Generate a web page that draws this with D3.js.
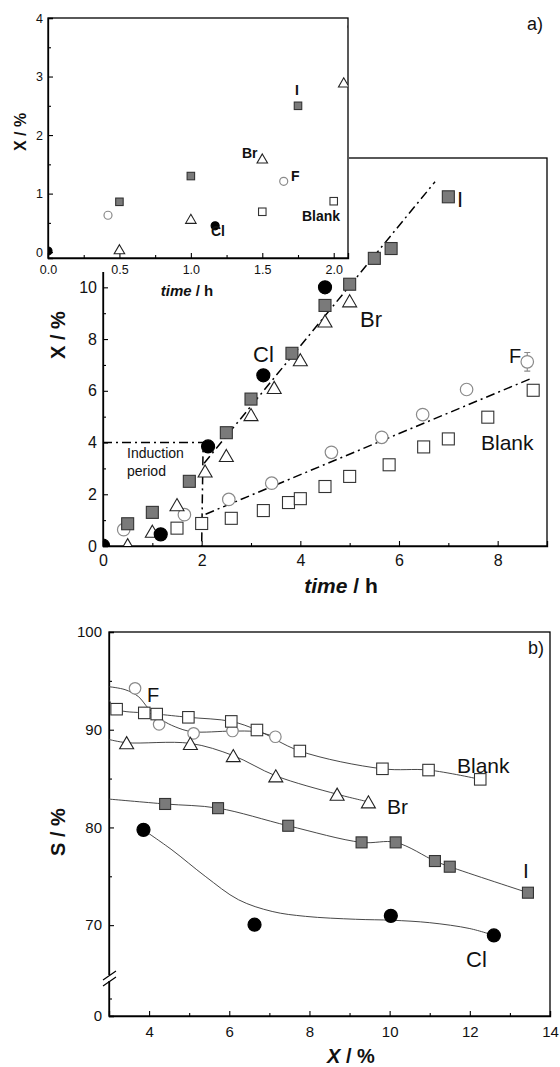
<!DOCTYPE html>
<html>
<head>
<meta charset="utf-8">
<script src="https://cdn.jsdelivr.net/npm/d3@7"></script>
<style>
  body { margin: 0; background: #fff; }
  svg { display: block; }
  text { font-family: "Liberation Sans", Arial, sans-serif; fill: #111; }
</style>
</head>
<body>
<svg id="chart" width="560" height="1067"></svg>
<script>
// ---------- panel a: conversion X (%) against time (h)
var clTime = [0, 1.17, 2.13, 3.25, 4.5];
var clConv = [0.02, 0.45, 3.85, 6.6, 10.0];
var iTime = [0.5, 1.0, 1.75, 2.5, 3.0, 3.83, 4.5, 5.0, 5.5, 5.84, 7.0];
var iConv = [0.86, 1.3, 2.5, 4.38, 5.68, 7.45, 9.3, 10.12, 11.12, 11.5, 13.5];
var brTime = [0.5, 1.0, 1.5, 2.07, 2.5, 3.0, 3.47, 4.0, 4.5, 5.0];
var brConv = [0.05, 0.57, 1.6, 2.9, 3.5, 5.08, 6.13, 7.2, 8.7, 9.48];
var fTime = [0.42, 1.65, 2.55, 3.42, 4.63, 5.65, 6.48, 7.37, 8.6];
var fConv = [0.63, 1.21, 1.8, 2.43, 3.62, 4.2, 5.08, 6.05, 7.12];
var fErr = [0, 0, 0, 0, 0, 0, 0, 0, 0.36];
var blankTime = [1.5, 2.0, 2.6, 3.25, 3.76, 4.0, 4.5, 5.0, 5.8, 6.5, 7.0, 7.8, 8.72];
var blankConv = [0.69, 0.87, 1.07, 1.37, 1.68, 1.83, 2.3, 2.69, 3.14, 3.83, 4.14, 4.98, 6.02];

// dash-dot guide lines of panel a
var inductionTime = [0, 2.03, 2.0];
var inductionConv = [4, 4, 0];
var fastRateTime = [2.05, 6.73];
var fastRateConv = [3.2, 14.08];
var slowRateTime = [2.08, 8.67];
var slowRateConv = [1.23, 6.47];

// tick values
var aTimeTicks = [0, 2, 4, 6, 8], aTimeMinor = [1, 3, 5, 7];
var aConvTicks = [0, 2, 4, 6, 8, 10, 12, 14], aConvMinor = [1, 3, 5, 7, 9, 11, 13];
var insetTimeTicks = [0, 0.5, 1.0, 1.5, 2.0], insetTimeMinor = [0.25, 0.75, 1.25, 1.75];
var insetConvTicks = [0, 1, 2, 3, 4], insetConvMinor = [0.5, 1.5, 2.5, 3.5];

// ---------- panel b: selectivity S (%) against conversion X (%)
var clX = [3.86, 6.63, 10.03, 12.6];
var clS = [79.75, 70.05, 70.95, 68.95];
var iX = [4.4, 5.72, 7.47, 9.3, 10.15, 11.13, 11.5, 13.45];
var iS = [82.4, 81.97, 80.17, 78.47, 78.47, 76.56, 75.98, 73.32];
var brX = [3.44, 5.03, 6.1, 7.16, 8.69, 9.47];
var brS = [88.67, 88.6, 87.35, 85.28, 83.4, 82.62];
var blankX = [3.19, 3.88, 4.19, 4.98, 6.05, 6.69, 7.76, 9.82, 10.97, 12.26];
var blankS = [92.1, 91.72, 91.6, 91.27, 90.85, 89.97, 87.82, 86.0, 85.87, 84.92];
var fX = [3.65, 4.25, 5.11, 6.08, 7.15];
var fS = [94.24, 90.55, 89.63, 89.87, 89.28];

// smoothed curves (Cl and F are fits, the others run through the points from X = 3)
var clFitX = [3.86, 4.57, 5.4, 6.23, 7.07, 7.9, 9.15, 10.07, 11.0, 12.0, 12.6];
var clFitS = [79.75, 77.7, 75.0, 72.6, 71.4, 70.9, 70.6, 70.5, 70.25, 69.65, 68.95];
var fFitX = [3.0, 3.4, 3.73, 3.98, 4.32, 4.65, 5.07, 6.07, 6.65, 7.15];
var fFitS = [94.4, 94.1, 93.4, 92.2, 91.0, 90.3, 89.8, 89.86, 89.8, 89.28];
var startX = 3.0;
var iStartS = 82.9, brStartS = 89.0, blankStartS = 93.05;

var bXTicks = [4, 6, 8, 10, 12, 14], bXMinor = [5, 7, 9, 11, 13];
var bSTicks = [0, 70, 80, 90, 100], bSMinor = [5, 75, 85, 95];

var svg = d3.select('#chart');
var grey = '#7a7a7a', ring = '#8a8a8a';

// scales
var xA = d3.scaleLinear().domain([0, 9]).range([103, 547]);
var yA = d3.scaleLinear().domain([0, 15]).range([546, 158]);
var xIn = d3.scaleLinear().domain([0, 2.1]).range([48, 348]);
var yIn = d3.scaleLinear().domain([-0.1, 4]).range([258, 18]);
var xB = d3.scaleLinear().domain([3, 14]).range([109, 550]);
// broken axis: 0..10 squeezed under the break, 65..100 linear above it
var yB = d3.scaleLinear().domain([0, 10, 65, 100]).range([1016, 981, 974, 632]);

function zip(xs, ys) {
	return xs.map(function (x, i) { return [x, ys[i]]; });
}

function drawSeries(g, xs, ys, sx, sy, kind, s) {
	var pts = zip(xs, ys).map(function (d) { return [sx(d[0]), sy(d[1])]; });
	var sel = g.selectAll(null).data(pts).enter();
	if (kind == 'cl' || kind == 'f') {
		sel.append('circle')
			.attr('cx', function (d) { return d[0]; })
			.attr('cy', function (d) { return d[1]; })
			.attr('r', s / 2)
			.attr('fill', kind == 'cl' ? '#000' : '#fff')
			.attr('stroke', kind == 'cl' ? '#000' : ring)
			.attr('stroke-width', 1.2);
	} else if (kind == 'i' || kind == 'blank') {
		sel.append('rect')
			.attr('x', function (d) { return d[0] - s / 2; })
			.attr('y', function (d) { return d[1] - s / 2; })
			.attr('width', s).attr('height', s)
			.attr('fill', kind == 'i' ? grey : '#fff')
			.attr('stroke', '#333')
			.attr('stroke-width', 1.1);
	} else {
		var h = s * Math.sqrt(3) / 2;
		sel.append('path')
			.attr('d', function (d) {
				return 'M' + d[0] + ',' + (d[1] - h / 2) +
					'L' + (d[0] + s / 2) + ',' + (d[1] + h / 2) +
					'L' + (d[0] - s / 2) + ',' + (d[1] + h / 2) + 'Z';
			})
			.attr('fill', '#fff')
			.attr('stroke', '#222')
			.attr('stroke-width', 1.1);
	}
}

function styleAxis(a, size) {
	a.attr('font-family', null).attr('font-size', size);
	a.select('.domain').attr('stroke', '#000').attr('stroke-width', 1.3);
	a.selectAll('.tick line').attr('stroke', '#000').attr('stroke-width', 1.1);
	a.selectAll('.tick text').attr('fill', '#111');
}

// axis with inward major + minor ticks
function drawAxis(g, gen, scale, major, minor, fmt, size, pad, tx, ty) {
	var mi = g.append('g').attr('transform', 'translate(' + tx + ',' + ty + ')')
		.call(gen(scale).tickValues(minor).tickSize(-3).tickFormat(''));
	mi.select('.domain').remove();
	mi.selectAll('.tick line').attr('stroke', '#000').attr('stroke-width', 1.1);
	var ma = g.append('g').attr('transform', 'translate(' + tx + ',' + ty + ')')
		.call(gen(scale).tickValues(major).tickSize(-5).tickPadding(pad).tickFormat(fmt));
	styleAxis(ma, size);
	return ma;
}

function label(g, x, y, txt, size, weight) {
	return g.append('text').attr('x', x).attr('y', y)
		.attr('font-size', size).attr('font-weight', weight || 'normal').text(txt);
}

var defs = svg.append('defs');
defs.append('clipPath').attr('id', 'clipA').append('rect')
	.attr('x', 103).attr('y', 158).attr('width', 444).attr('height', 388);
defs.append('clipPath').attr('id', 'clipIn').append('rect')
	.attr('x', 48).attr('y', 18).attr('width', 300).attr('height', 240);
defs.append('clipPath').attr('id', 'clipB').append('rect')
	.attr('x', 109).attr('y', 632).attr('width', 441).attr('height', 384);

var dashDot = '9,4,2,4';

// ================= panel a (main) =================
var pa = svg.append('g');
pa.append('rect').attr('x', 103).attr('y', 158).attr('width', 444).attr('height', 388)
	.attr('fill', 'none').attr('stroke', '#000').attr('stroke-width', 1.3);
drawAxis(pa, d3.axisBottom, xA, aTimeTicks, aTimeMinor, d3.format('d'), 16, 9, 0, 546);
drawAxis(pa, d3.axisLeft, yA, aConvTicks, aConvMinor, d3.format('d'), 16, 6, 103, 0);

var plotA = pa.append('g').attr('clip-path', 'url(#clipA)');
var lineA = d3.line().x(function (d) { return xA(d[0]); }).y(function (d) { return yA(d[1]); });
[[inductionTime, inductionConv], [fastRateTime, fastRateConv], [slowRateTime, slowRateConv]].forEach(function (l) {
	plotA.append('path').attr('d', lineA(zip(l[0], l[1])))
		.attr('fill', 'none').attr('stroke', '#000').attr('stroke-width', 1.5)
		.attr('stroke-dasharray', dashDot);
});

// error bar on F
zip(fTime, fConv).forEach(function (d, i) {
	if (!fErr[i]) return;
	var x = xA(d[0]), y1 = yA(d[1] - fErr[i]), y2 = yA(d[1] + fErr[i]);
	plotA.append('path')
		.attr('d', 'M' + x + ',' + y1 + 'V' + y2 + 'M' + (x - 3) + ',' + y1 + 'H' + (x + 3) + 'M' + (x - 3) + ',' + y2 + 'H' + (x + 3))
		.attr('stroke', ring).attr('stroke-width', 1.1).attr('fill', 'none');
});

drawSeries(plotA, blankTime, blankConv, xA, yA, 'blank', 12);
drawSeries(plotA, fTime, fConv, xA, yA, 'f', 12.5);
drawSeries(plotA, iTime, iConv, xA, yA, 'i', 12);
drawSeries(plotA, brTime, brConv, xA, yA, 'br', 14);
drawSeries(plotA, clTime, clConv, xA, yA, 'cl', 13);

label(pa, 253, 362, 'Cl', 22);
label(pa, 360, 327, 'Br', 22);
label(pa, 457, 207, 'I', 22);
label(pa, 509, 363, 'F', 20);
label(pa, 481, 450, 'Blank', 21);
label(pa, 127, 458, 'Induction', 14);
label(pa, 127, 476, 'period', 14);
label(pa, 527, 30, 'a)', 18);

var tA = pa.append('text').attr('x', 341).attr('y', 593).attr('text-anchor', 'middle')
	.attr('font-size', 21).attr('font-weight', 'bold');
tA.append('tspan').attr('font-style', 'italic').text('time');
tA.append('tspan').text(' / h');
pa.append('text').attr('transform', 'translate(65,335) rotate(-90)').attr('text-anchor', 'middle')
	.attr('font-size', 20).attr('font-weight', 'bold').text('X / %');

// ================= inset =================
svg.append('rect').attr('x', 0).attr('y', 0).attr('width', 349).attr('height', 272).attr('fill', '#fff');
var ins = svg.append('g');
ins.append('rect').attr('x', 48).attr('y', 18).attr('width', 300).attr('height', 240)
	.attr('fill', 'none').attr('stroke', '#000').attr('stroke-width', 1.3);
drawAxis(ins, d3.axisBottom, xIn, insetTimeTicks, insetTimeMinor, d3.format('.1f'), 12.5, 7, 0, 258);
drawAxis(ins, d3.axisLeft, yIn, insetConvTicks, insetConvMinor, d3.format('d'), 12.5, 5, 48, 0);

var plotIn = ins.append('g').attr('clip-path', 'url(#clipIn)');
drawSeries(plotIn, blankTime, blankConv, xIn, yIn, 'blank', 7.5);
drawSeries(plotIn, fTime, fConv, xIn, yIn, 'f', 8);
drawSeries(plotIn, iTime, iConv, xIn, yIn, 'i', 7.5);
drawSeries(plotIn, brTime, brConv, xIn, yIn, 'br', 10.5);
drawSeries(plotIn, clTime, clConv, xIn, yIn, 'cl', 8);

label(ins, 295, 95, 'I', 14, 'bold');
label(ins, 242, 158, 'Br', 14, 'bold');
label(ins, 291, 181, 'F', 14, 'bold');
label(ins, 211, 236, 'Cl', 14, 'bold');
label(ins, 302, 221, 'Blank', 14, 'bold');

var tIn = ins.append('text').attr('x', 187).attr('y', 296).attr('text-anchor', 'middle')
	.attr('font-size', 15).attr('font-weight', 'bold');
tIn.append('tspan').attr('font-style', 'italic').text('time');
tIn.append('tspan').text(' / h');
ins.append('text').attr('transform', 'translate(26,132) rotate(-90)').attr('text-anchor', 'middle')
	.attr('font-size', 16).attr('font-weight', 'bold').text('X / %');

// ================= panel b =================
var pb = svg.append('g');
pb.append('rect').attr('x', 109).attr('y', 632).attr('width', 441).attr('height', 384)
	.attr('fill', 'none').attr('stroke', '#000').attr('stroke-width', 1.3);
drawAxis(pb, d3.axisBottom, xB, bXTicks, bXMinor, d3.format('d'), 15, 10, 0, 1016);
drawAxis(pb, d3.axisLeft, yB, bSTicks, bSMinor, d3.format('d'), 15, 7, 109, 0);

// axis break
pb.append('rect').attr('x', 105).attr('y', 975).attr('width', 8).attr('height', 6).attr('fill', '#fff');
pb.append('path').attr('d', 'M103,980L116,971M103,986L116,977')
	.attr('stroke', '#000').attr('stroke-width', 1.2).attr('fill', 'none');

var plotB = pb.append('g').attr('clip-path', 'url(#clipB)');
var lineB = d3.line().curve(d3.curveCatmullRom.alpha(0.5))
	.x(function (d) { return xB(d[0]); }).y(function (d) { return yB(d[1]); });
var curves = [
	zip(clFitX, clFitS),
	zip(fFitX, fFitS),
	[[startX, iStartS]].concat(zip(iX, iS)),
	[[startX, brStartS]].concat(zip(brX, brS)),
	[[startX, blankStartS]].concat(zip(blankX, blankS))
];
curves.forEach(function (c) {
	plotB.append('path').attr('d', lineB(c))
		.attr('fill', 'none').attr('stroke', '#333').attr('stroke-width', 0.9);
});

drawSeries(plotB, fX, fS, xB, yB, 'f', 11.5);
drawSeries(plotB, blankX, blankS, xB, yB, 'blank', 11.5);
drawSeries(plotB, brX, brS, xB, yB, 'br', 14);
drawSeries(plotB, iX, iS, xB, yB, 'i', 11);
drawSeries(plotB, clX, clS, xB, yB, 'cl', 13);

label(pb, 147, 702, 'F', 20);
label(pb, 457, 773, 'Blank', 21);
label(pb, 387, 814, 'Br', 21);
label(pb, 523, 878, 'I', 21);
label(pb, 466, 967, 'Cl', 22);
label(pb, 528, 654, 'b)', 18);

var tB = pb.append('text').attr('x', 351).attr('y', 1063).attr('text-anchor', 'middle')
	.attr('font-size', 20).attr('font-weight', 'bold');
tB.append('tspan').attr('font-style', 'italic').text('X');
tB.append('tspan').text(' / %');
pb.append('text').attr('transform', 'translate(65,832) rotate(-90)').attr('text-anchor', 'middle')
	.attr('font-size', 20).attr('font-weight', 'bold').text('S / %');
</script>
</body>
</html>
